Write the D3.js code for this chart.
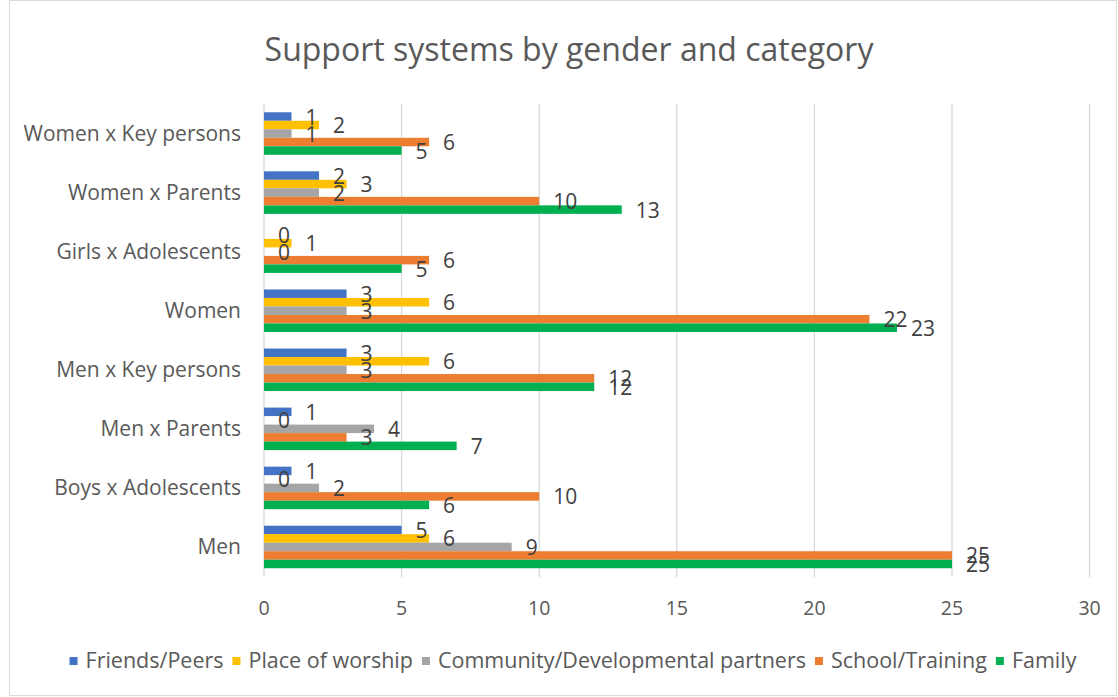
<!DOCTYPE html>
<html>
<head>
<meta charset="utf-8">
<script src="https://cdn.jsdelivr.net/npm/d3@7"></script>
<style>
  body { margin: 0; background: #fff; }
  text { font-family: "Open Sans", "Noto Sans", sans-serif; }
</style>
</head>
<body>
<script>
// categories, top to bottom as drawn
const categories = ["Women x Key persons", "Women x Parents", "Girls x Adolescents", "Women",
                    "Men x Key persons", "Men x Parents", "Boys x Adolescents", "Men"]
const seriesNames = ["Friends/Peers", "Place of worship", "Community/Developmental partners", "School/Training", "Family"]
const seriesColors = ["#4472C4", "#FFC000", "#A5A5A5", "#ED7D31", "#00B050"]
// values per category, same order as categories
const friends   = [1, 2, 0, 3, 3, 1, 1, 5]
const worship   = [2, 3, 1, 6, 6, 0, 0, 6]
const community = [1, 2, 0, 3, 3, 4, 2, 9]
const school    = [6, 10, 6, 22, 12, 3, 10, 25]
const family    = [5, 13, 5, 23, 12, 7, 6, 25]
const xTicks = [0, 5, 10, 15, 20, 25, 30]

const seriesValues = [friends, worship, community, school, family]

const W = 1118, H = 697
let margin = {top: 104, left: 264, right: 28, bottom: 120}

let svg = d3.select("body").append("svg")
    .attr("width", W)
    .attr("height", H)

// chart border
svg.append("rect")
    .attr("x", 9.5).attr("y", 0.5)
    .attr("width", W - 11).attr("height", H - 2)
    .attr("fill", "#fff")
    .attr("stroke", "#d9d9d9")

// title
svg.append("text")
    .attr("x", 569).attr("y", 61)
    .attr("text-anchor", "middle")
    .attr("font-size", 32)
    .attr("fill", "#595959")
    .text("Support systems by gender and category")

let x = d3.scaleLinear().domain([0, 30]).range([margin.left, 1089.6])
let y = d3.scaleBand().domain(categories).range([margin.top, 576.5]).paddingInner(0.28).paddingOuter(0.14)
let ySub = d3.scaleBand().domain(d3.range(seriesNames.length)).range([0, y.bandwidth()])

// gridlines
svg.append("g")
    .selectAll("line")
    .data(xTicks)
    .enter()
    .append("line")
    .attr("x1", d => x(d)).attr("x2", d => x(d))
    .attr("y1", margin.top).attr("y2", 577)
    .attr("stroke", "#d9d9d9")
    .attr("stroke-width", 1.3)

// x tick labels
svg.append("g")
    .selectAll("text")
    .data(xTicks)
    .enter()
    .append("text")
    .attr("x", d => x(d))
    .attr("y", 615)
    .attr("text-anchor", "middle")
    .attr("font-size", 19.5)
    .attr("fill", "#595959")
    .text(d => d)

// category labels
svg.append("g")
    .selectAll("text")
    .data(categories)
    .enter()
    .append("text")
    .attr("x", 241)
    .attr("y", d => y(d) + y.bandwidth() / 2 + 7)
    .attr("text-anchor", "end")
    .attr("font-size", 21)
    .attr("fill", "#595959")
    .text(d => d)

// flatten into bar records
let bars = []
categories.forEach(function (c, i) {
    seriesValues.forEach(function (vals, s) {
        bars.push({cat: c, s: s, v: vals[i]})
    })
})

svg.append("g")
    .selectAll("rect")
    .data(bars)
    .enter()
    .append("rect")
    .attr("x", x(0))
    .attr("y", d => y(d.cat) + ySub(d.s))
    .attr("width", d => x(d.v) - x(0))
    .attr("height", ySub.bandwidth())
    .attr("fill", d => seriesColors[d.s])

// value labels
svg.append("g")
    .selectAll("text")
    .data(bars)
    .enter()
    .append("text")
    .attr("x", d => x(d.v) + 14)
    .attr("y", d => y(d.cat) + ySub(d.s) + ySub.bandwidth() / 2 + 8)
    .attr("font-size", 21)
    .attr("fill", "#404040")
    .text(d => d.v)

// legend
let legend = svg.append("g")
let lx = 0
let items = legend.selectAll("g")
    .data(seriesNames)
    .enter()
    .append("g")
items.append("rect")
    .attr("width", 8).attr("height", 8)
    .attr("y", -4)
    .attr("fill", (d, i) => seriesColors[i])
items.append("text")
    .attr("x", 16)
    .attr("y", 7)
    .attr("font-size", 21.5)
    .attr("fill", "#595959")
    .text(d => d)
items.each(function () {
    let g = d3.select(this)
    g.attr("transform", "translate(" + lx + ",0)")
    lx += 16 + g.select("text").node().getComputedTextLength() + 9
})
legend.attr("transform", "translate(" + (573 - (lx - 9) / 2) + ",661)")
</script>
</body>
</html>
